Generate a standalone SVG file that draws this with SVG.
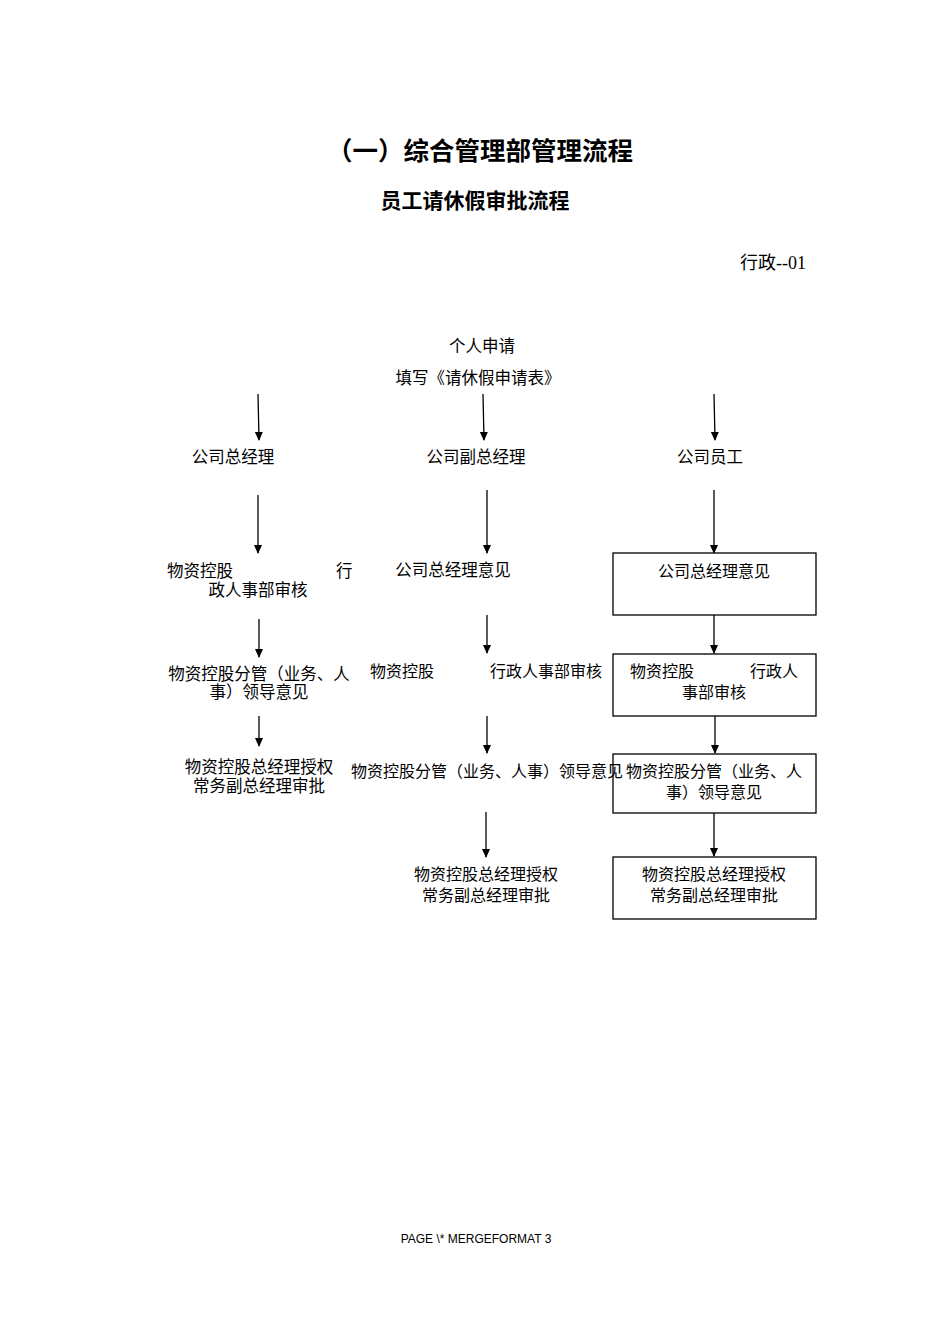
<svg xmlns="http://www.w3.org/2000/svg" width="950" height="1344" viewBox="0 0 950 1344">
<style>
.s{font-family:"Liberation Serif","Noto Sans CJK SC",serif;font-size:16.5px;fill:#000}
.a{font-family:"Liberation Sans","Noto Sans CJK SC",sans-serif;font-size:16px;fill:#000}
.c{text-anchor:middle}
.b{fill:#fff;stroke:#000;stroke-width:1.3}
line{stroke:#000;stroke-width:1.3}
</style>
<defs><marker id="m" markerWidth="10" markerHeight="10" refX="8" refY="4" orient="auto" markerUnits="userSpaceOnUse"><path d="M0,0L9,4L0,8z" fill="#000"/></marker></defs>
<rect width="950" height="1344" fill="#fff"/>
<g id="title">
<text x="480" y="160" class="a c" style="font-size:25.5px;font-weight:bold">（一）综合管理部管理流程</text>
<text x="475" y="208" class="a c" style="font-size:21px;font-weight:bold">员工请休假审批流程</text>
<text x="806" y="269" class="s" style="font-size:18px;text-anchor:end">行政--01</text>
</g>
<g id="connectors" marker-end="url(#m)">
<line x1="258" y1="394" x2="259" y2="440"/><line x1="483" y1="394" x2="484" y2="440"/><line x1="714" y1="394" x2="715" y2="440"/>
<line x1="258" y1="495" x2="258" y2="553"/><line x1="487" y1="490" x2="487" y2="553"/><line x1="714" y1="490" x2="714" y2="553"/>
<line x1="259" y1="619" x2="259" y2="657"/><line x1="259" y1="716" x2="259" y2="746"/>
<line x1="487" y1="615" x2="487" y2="653"/><line x1="487" y1="716" x2="487" y2="753"/><line x1="486" y1="812" x2="486" y2="857"/>
<line x1="714" y1="615" x2="714" y2="653"/><line x1="715" y1="716" x2="715" y2="753"/><line x1="714" y1="813" x2="714" y2="856"/>
</g>
<g id="n-apply"><text x="482" y="352" class="s c">个人申请</text><text x="478" y="384" class="s c">填写《请休假申请表》</text></g>
<g id="n-gm"><text x="233" y="463" class="s c">公司总经理</text></g>
<g id="n-dgm"><text x="476" y="463" class="s c">公司副总经理</text></g>
<g id="n-emp"><text x="710" y="463" class="s c">公司员工</text></g>
<g id="n-l1"><text x="167" y="577" class="s">物资控股</text><text x="336" y="577" class="s">行</text><text x="258" y="596" class="s c">政人事部审核</text></g>
<g id="n-l2"><text x="259" y="680" class="s c">物资控股分管（业务、人</text><text x="259" y="698" class="s c">事）领导意见</text></g>
<g id="n-l3"><text x="259" y="773" class="s c">物资控股总经理授权</text><text x="259" y="792" class="s c">常务副总经理审批</text></g>
<g id="n-m1"><text x="453" y="576" class="s c">公司总经理意见</text></g>
<g id="n-m2"><text x="370" y="677" class="a">物资控股</text><text x="546" y="677" class="a c">行政人事部审核</text></g>
<g id="n-m4"><text x="486" y="880" class="a c">物资控股总经理授权</text><text x="486" y="901" class="a c">常务副总经理审批</text></g>
<g id="n-r1"><rect x="613" y="553" width="203" height="62" class="b"/><text x="714" y="577" class="a c">公司总经理意见</text></g>
<g id="n-r2"><rect x="613" y="654" width="203" height="62" class="b"/><text x="630" y="677" class="a">物资控股</text><text x="798" y="677" class="a" style="text-anchor:end">行政人</text><text x="714" y="698" class="a c">事部审核</text></g>
<g id="n-r3"><rect x="613" y="754" width="203" height="59" class="b"/><text x="714" y="777" class="a c">物资控股分管（业务、人</text><text x="714" y="798" class="a c">事）领导意见</text></g>
<g id="n-r4"><rect x="613" y="857" width="203" height="62" class="b"/><text x="714" y="880" class="a c">物资控股总经理授权</text><text x="714" y="901" class="a c">常务副总经理审批</text></g>
<g id="n-m3"><text x="487" y="777" class="a c">物资控股分管（业务、人事）领导意见</text></g>
<text x="476" y="1243" class="a c" style="font-size:12px">PAGE  \* MERGEFORMAT 3</text>
</svg>
